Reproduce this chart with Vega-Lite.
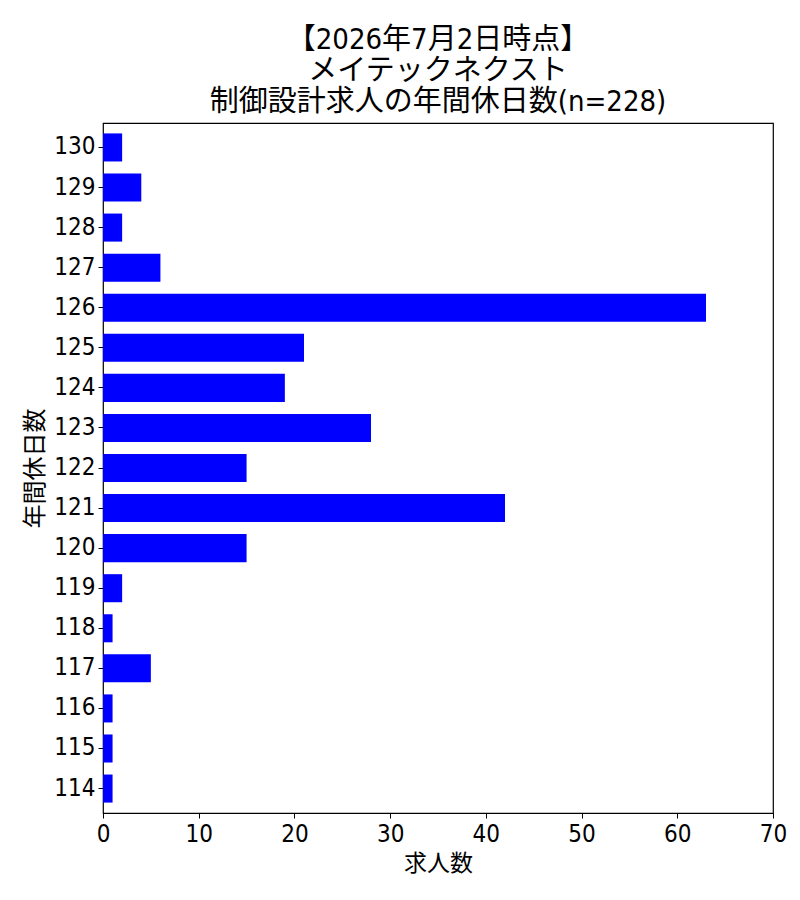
{
  "$schema": "https://vega.github.io/schema/vega-lite/v6.json",
  "width": 670,
  "height": 690,
  "autosize": "none",
  "padding": {"left": 103, "top": 123, "right": 27, "bottom": 87},
  "background": "white",
  "title": {
    "text": ["【2026年7月2日時点】", "メイテックネクスト", "制御設計求人の年間休日数(n=228)"],
    "font": "DejaVu Sans Condensed, Noto Sans CJK JP",
    "fontSize": 29,
    "lineHeight": 31,
    "fontWeight": "normal",
    "color": "black",
    "anchor": "middle",
    "offset": 6
  },
  "data": {
    "values": [
      {"days": "130", "count": 2},
      {"days": "129", "count": 4},
      {"days": "128", "count": 2},
      {"days": "127", "count": 6},
      {"days": "126", "count": 63},
      {"days": "125", "count": 21},
      {"days": "124", "count": 19},
      {"days": "123", "count": 28},
      {"days": "122", "count": 15},
      {"days": "121", "count": 42},
      {"days": "120", "count": 15},
      {"days": "119", "count": 2},
      {"days": "118", "count": 1},
      {"days": "117", "count": 5},
      {"days": "116", "count": 1},
      {"days": "115", "count": 1},
      {"days": "114", "count": 1}
    ]
  },
  "mark": {"type": "bar", "color": "#0000ff"},
  "encoding": {
    "y": {
      "field": "days",
      "type": "ordinal",
      "sort": "descending",
      "scale": {"paddingInner": 0.3, "paddingOuter": 0.26},
      "axis": {
        "title": "年間休日数",
        "titleFont": "Noto Sans CJK JP",
        "titleFontSize": 24,
        "titleFontWeight": "normal",
        "titleColor": "black",
        "titlePadding": 6,
        "labelFont": "DejaVu Sans Condensed",
        "labelFontSize": 24,
        "labelColor": "black",
        "labelPadding": 3,
        "tickSize": 5,
        "tickColor": "black",
        "domain": false
      }
    },
    "x": {
      "field": "count",
      "type": "quantitative",
      "scale": {"domain": [0, 70], "nice": false},
      "axis": {
        "title": "求人数",
        "titleFont": "Noto Sans CJK JP",
        "titleFontSize": 23,
        "titleFontWeight": "normal",
        "titleColor": "black",
        "titlePadding": 6,
        "values": [0, 10, 20, 30, 40, 50, 60, 70],
        "grid": false,
        "labelFont": "DejaVu Sans Condensed",
        "labelFontSize": 24,
        "labelColor": "black",
        "labelFlush": false,
        "labelPadding": 4,
        "tickSize": 5,
        "tickColor": "black",
        "domain": false
      }
    }
  },
  "config": {
    "view": {"stroke": "black", "strokeWidth": 1.2}
  }
}
